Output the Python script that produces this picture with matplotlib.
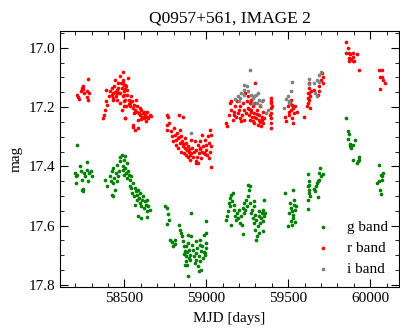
import numpy as np
import matplotlib
matplotlib.use('Agg')
import matplotlib.pyplot as plt
from matplotlib.ticker import MultipleLocator

# r band (MJD, mag)
r_mjd = [58212, 58218, 58224, 58233, 58239, 58245, 58249, 58253, 58269, 58273, 58279, 58279, 58285,
         58371, 58377, 58381, 58387, 58387, 58395, 58411, 58422, 58428, 58432, 58436, 58442, 58448, 58452,
         58456, 58462, 58468, 58472, 58476, 58483, 58489, 58493, 58493, 58497, 58499, 58503, 58503, 58509,
         58513, 58517, 58523, 58529, 58533, 58537, 58543, 58549, 58554, 58558, 58564, 58570, 58574, 58578,
         58584, 58590, 58594, 58598, 58604, 58610, 58614, 58618, 58625, 58631, 58635, 58639, 58645, 58655,
         58665, 58584, 58554, 58489, 58497, 58503, 58483, 58476, 58509, 58452, 58432, 58422, 58407, 58551,
         58563, 58503, 58500, 58505, 58495, 58480, 58460, 58445, 58530, 58560, 58600, 58620,
         58757, 58767, 58761, 58773, 58757, 58787, 58793, 58797, 58801, 58807, 58813, 58817, 58821, 58828,
         58828, 58834, 58838, 58842, 58848, 58848, 58854, 58858, 58858, 58862, 58868, 58868, 58874, 58878,
         58882, 58888, 58888, 58895, 58899, 58903, 58915, 58919, 58923, 58929, 58935, 58939, 58943, 58949,
         58949, 58955, 58959, 58964, 58970, 58976, 58980, 58984, 58990, 58996, 59000, 59004, 59010, 59016,
         59020, 59024, 59030, 59030, 59016, 58939, 59030, 58909, 58865, 58880, 58893, 58905, 58960, 58975,
         58990, 58850, 58835,
         59118, 59126, 59138, 59142, 59152, 59152, 59162, 59166, 59172, 59178, 59182, 59187, 59193, 59199,
         59203, 59207, 59213, 59219, 59223, 59227, 59233, 59239, 59243,
         59247, 59253, 59253, 59260, 59264, 59268, 59274, 59274, 59280, 59284, 59288, 59294, 59300, 59304,
         59308, 59314, 59320, 59324, 59329, 59335, 59341, 59345, 59349, 59355, 59300, 59284, 59262, 59270,
         59290, 59310, 59330, 59340,
         59396, 59396, 59396, 59396, 59396, 59396, 59396, 59389, 59402, 59396,
         59483, 59487, 59497, 59503, 59507, 59511, 59517, 59523, 59527, 59531, 59538, 59544, 59552, 59517,
         59523, 59594,
         59613, 59619, 59619, 59625, 59629, 59625, 59633, 59633, 59639, 59619, 59629, 59659, 59680, 59690,
         59700, 59706, 59710, 59714, 59690,
         59852, 59862, 59852, 59868, 59876, 59893, 59917, 59868, 59882, 59893, 59897, 59903, 59872, 59933,
         60055, 60071, 60059, 60075, 60079, 60091, 60059]
r_mag = [17.158, 17.166, 17.173, 17.147, 17.136, 17.139, 17.130, 17.153, 17.147, 17.166, 17.175, 17.106, 17.153,
         17.237, 17.226, 17.211, 17.181, 17.142, 17.192, 17.147, 17.159, 17.170, 17.153, 17.130, 17.110, 17.164, 17.175,
         17.142, 17.119, 17.153, 17.094, 17.187, 17.136, 17.164, 17.083, 17.108, 17.147, 17.181, 17.125, 17.237, 17.198,
         17.159, 17.142, 17.102, 17.175, 17.187, 17.198, 17.164, 17.181, 17.203, 17.192, 17.209, 17.175, 17.215, 17.198,
         17.243, 17.220, 17.203, 17.226, 17.209, 17.232, 17.220, 17.237, 17.226, 17.248, 17.232, 17.215, 17.237, 17.226,
         17.229, 17.271, 17.260, 17.119, 17.198, 17.175, 17.209, 17.153, 17.130, 17.153, 17.175, 17.136, 17.164, 17.266,
         17.277, 17.236, 17.160, 17.140, 17.125, 17.120, 17.135, 17.150, 17.190, 17.220, 17.240, 17.215,
         17.226, 17.232, 17.260, 17.254, 17.279, 17.282, 17.299, 17.316, 17.271, 17.293, 17.310, 17.327, 17.288, 17.305,
         17.338, 17.226, 17.322, 17.277, 17.299, 17.350, 17.316, 17.333, 17.232, 17.355, 17.305, 17.338, 17.322, 17.361,
         17.344, 17.367, 17.333, 17.350, 17.378, 17.361, 17.338, 17.367, 17.350, 17.316, 17.383, 17.344, 17.367, 17.327,
         17.389, 17.355, 17.316, 17.338, 17.372, 17.293, 17.333, 17.355, 17.310, 17.344, 17.327, 17.361, 17.299, 17.322,
         17.350, 17.277, 17.293, 17.333, 17.372, 17.389, 17.402, 17.310, 17.325, 17.345, 17.340, 17.355, 17.340, 17.350,
         17.360, 17.320, 17.300,
         17.254, 17.263, 17.226, 17.187, 17.209, 17.181, 17.243, 17.226, 17.215, 17.198, 17.232, 17.181, 17.220, 17.209,
         17.237, 17.198, 17.248, 17.226, 17.187, 17.209, 17.243, 17.153, 17.220,
         17.181, 17.203, 17.164, 17.226, 17.187, 17.243, 17.209, 17.175, 17.232, 17.198, 17.254, 17.220, 17.187, 17.237,
         17.209, 17.260, 17.226, 17.243, 17.198, 17.265, 17.232, 17.215, 17.254, 17.237, 17.119, 17.248, 17.205, 17.215,
         17.235, 17.225, 17.250, 17.245,
         17.170, 17.187, 17.203, 17.220, 17.237, 17.254, 17.271, 17.226, 17.198, 17.181,
         17.232, 17.248, 17.198, 17.215, 17.226, 17.187, 17.209, 17.237, 17.254, 17.203, 17.220, 17.198, 17.215, 17.175,
         17.192, 17.232,
         17.198, 17.187, 17.170, 17.153, 17.136, 17.175, 17.203, 17.164, 17.147, 17.153, 17.119, 17.142, 17.159, 17.130,
         17.108, 17.085, 17.097, 17.119, 17.147,
         16.981, 17.001, 17.016, 17.018, 17.020, 17.018, 17.020, 17.035, 17.038, 17.032, 17.043, 17.046, 17.046, 17.076,
         17.076, 17.076, 17.097, 17.097, 17.110, 17.119, 17.139]

# g band
g_mjd = [58209, 58198, 58205, 58205, 58213, 58229, 58233, 58239, 58239, 58245, 58249, 58253, 58259, 58274, 58274,
         58280, 58286, 58294, 58300,
         58381, 58395, 58411, 58416, 58422, 58422, 58428, 58428, 58432, 58436, 58442, 58448, 58452, 58456, 58462,
         58468, 58472, 58476, 58483, 58489, 58493, 58497, 58497, 58503, 58503, 58509, 58513, 58517, 58523, 58529,
         58533, 58537, 58543, 58549, 58554, 58558, 58564, 58570, 58574, 58578, 58584, 58590, 58594, 58598, 58604,
         58610, 58614, 58618, 58625, 58631, 58635, 58639, 58645, 58655, 58584, 58604, 58635, 58543, 58564,
         58746, 58761, 58767, 58773, 58761, 58909, 59000, 58834, 58842, 58848, 58781, 58793, 58807, 58807, 58797,
         58854, 58858, 58862, 58868, 58874, 58878, 58882, 58868, 58888, 58895, 58899, 58903, 58909, 58915, 58919,
         58923, 58888, 58929, 58935, 58939, 58943, 58949, 58955, 58959, 58964, 58970, 58976, 58980, 58984, 58990,
         58996, 59000, 59000, 58970, 58955, 58888, 58935, 58874, 58865, 58880, 58892, 58960, 58985, 58995,
         59122, 59126, 59132, 59138, 59142, 59146, 59152, 59158, 59162, 59166, 59172, 59178, 59182, 59187, 59193,
         59199, 59203, 59213, 59219, 59223, 59227, 59233, 59239, 59243, 59247, 59253, 59253, 59260, 59264, 59268,
         59274, 59280, 59284, 59288, 59294, 59294, 59300, 59300, 59304, 59308, 59314, 59320, 59324, 59329, 59335,
         59341, 59345, 59349, 59355, 59355, 59361, 59345, 59320, 59304, 59223, 59152,
         59483, 59531, 59511, 59517, 59523, 59527, 59531, 59538, 59544, 59517, 59523, 59544, 59497, 59507, 59538,
         59548,
         59619, 59625, 59619, 59629, 59625, 59633, 59619, 59629, 59619, 59659, 59669, 59674, 59680, 59686, 59690,
         59694, 59700, 59710, 59680, 59665,
         59852, 59862, 59868, 59862, 59876, 59897, 59882, 59876, 59909, 59893, 59917, 59929, 59933, 59923,
         60055, 60039, 60051, 60065, 60075, 60079, 60071, 60059, 60065]
g_mag = [17.327, 17.423, 17.434, 17.457, 17.428, 17.400, 17.417, 17.445, 17.479, 17.485, 17.477, 17.423, 17.434, 17.386,
         17.412, 17.451, 17.423, 17.417, 17.434,
         17.445, 17.468, 17.434, 17.451, 17.417, 17.496, 17.456, 17.501, 17.406, 17.440, 17.479, 17.423, 17.451, 17.395,
         17.434, 17.417, 17.383, 17.367, 17.361, 17.400, 17.412, 17.378, 17.428, 17.364, 17.406, 17.423, 17.389, 17.440,
         17.417, 17.428, 17.445, 17.468, 17.434, 17.490, 17.456, 17.501, 17.473, 17.485, 17.513, 17.496, 17.479, 17.507,
         17.524, 17.490, 17.535, 17.513, 17.501, 17.541, 17.518, 17.530, 17.552, 17.513, 17.535, 17.546, 17.569, 17.575,
         17.571, 17.473, 17.530,
         17.535, 17.541, 17.560, 17.582, 17.594, 17.558, 17.586, 17.597, 17.614, 17.625, 17.648, 17.657, 17.648, 17.661,
         17.670, 17.636, 17.653, 17.670, 17.687, 17.704, 17.721, 17.732, 17.732, 17.659, 17.681, 17.698, 17.715, 17.636,
         17.664, 17.681, 17.704, 17.631, 17.726, 17.693, 17.653, 17.676, 17.738, 17.704, 17.648, 17.721, 17.687, 17.670,
         17.709, 17.631, 17.693, 17.659, 17.625, 17.676, 17.749, 17.754, 17.769, 17.715, 17.670, 17.695, 17.690, 17.710,
         17.665, 17.690, 17.700,
         17.580, 17.569, 17.552, 17.524, 17.507, 17.535, 17.496, 17.518, 17.490, 17.546, 17.530, 17.569, 17.580, 17.558,
         17.574, 17.546, 17.591, 17.569, 17.597, 17.541, 17.558, 17.524, 17.546, 17.513, 17.535, 17.501, 17.462, 17.479,
         17.468, 17.524, 17.558, 17.546, 17.574, 17.518, 17.535, 17.591, 17.563, 17.614, 17.580, 17.636, 17.603, 17.569,
         17.552, 17.591, 17.574, 17.558, 17.586, 17.546, 17.569, 17.513, 17.558, 17.619, 17.625, 17.648, 17.627, 17.597,
         17.490, 17.479, 17.524, 17.541, 17.552, 17.563, 17.574, 17.530, 17.546, 17.586, 17.597, 17.589, 17.603, 17.558,
         17.513, 17.535,
         17.425, 17.451, 17.468, 17.479, 17.490, 17.501, 17.513, 17.462, 17.544, 17.477, 17.468, 17.456, 17.451, 17.445,
         17.423, 17.406, 17.434, 17.425, 17.504, 17.485,
         17.237, 17.282, 17.290, 17.308, 17.324, 17.327, 17.338, 17.333, 17.310, 17.380, 17.389, 17.378, 17.369, 17.383,
         17.395, 17.456, 17.451, 17.428, 17.434, 17.423, 17.445, 17.479, 17.492]

# i band
i_mjd = [58909, 59264, 59227, 59227, 59247, 59253, 59213, 59207, 59193, 59199, 59178, 59233, 59274, 59284, 59294,
         59304, 59314, 59324, 59341, 59329, 59349, 59365, 59375, 59308, 59284, 59523, 59517, 59497, 59487, 59507,
         59477, 59503, 59625, 59629, 59659, 59674, 59686, 59690, 59700, 59665, 59674]
i_mag = [17.288, 17.076, 17.125, 17.142, 17.130, 17.147, 17.153, 17.170, 17.164, 17.181, 17.173, 17.159, 17.159, 17.170,
         17.162, 17.159, 17.153, 17.175, 17.181, 17.192, 17.175, 17.220, 17.209, 17.187, 17.187, 17.117, 17.147, 17.164,
         17.173, 17.181, 17.203, 17.187, 17.106, 17.121, 17.119, 17.110, 17.117, 17.091, 17.080, 17.153, 17.162]

plt.rcParams['font.family'] = ['Liberation Serif', 'DejaVu Serif']

fig = plt.figure(figsize=(4.0, 3.29), dpi=100)
ax = fig.add_axes([0.15, 0.128, 0.8475, 0.778])

ax.scatter(g_mjd, g_mag, s=7, color='green', linewidths=0, label='g band')
ax.scatter(r_mjd, r_mag, s=7, color='red', linewidths=0, label='r band')
ax.scatter(i_mjd, i_mag, s=7, color='gray', linewidths=0, label='i band')

ax.set_xlim(58107, 60176)
ax.set_ylim(17.807, 16.943)
ax.xaxis.set_major_locator(MultipleLocator(500))
ax.xaxis.set_minor_locator(MultipleLocator(100))
ax.yaxis.set_major_locator(MultipleLocator(0.2))
ax.yaxis.set_minor_locator(MultipleLocator(0.05))
ax.tick_params(which='both', direction='in', top=True, right=True, labelsize=11)
ax.tick_params(which='major', length=6)
ax.tick_params(which='minor', length=3)

ax.set_xlabel('MJD [days]', fontsize=11, labelpad=5)
ax.set_ylabel('mag', fontsize=11)
ax.set_title('Q0957+561, IMAGE 2', fontsize=12.5, pad=6)

ax.legend(loc='lower right', frameon=False, fontsize=11, markerscale=1.0,
          handletextpad=0.6, labelspacing=0.5, borderaxespad=0.3)

fig.savefig('out.png', dpi=100)
